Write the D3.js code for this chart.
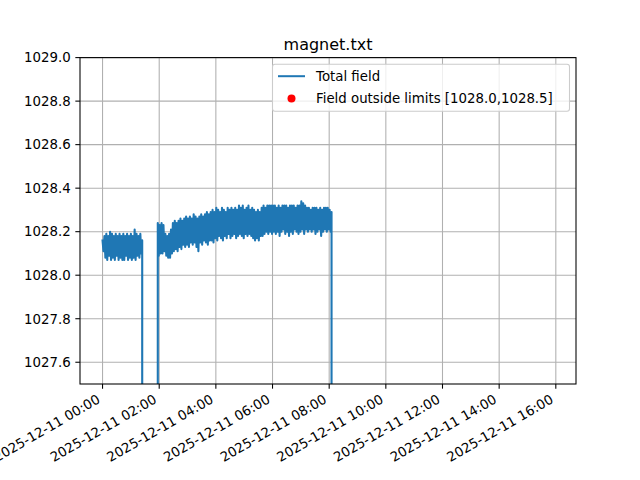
<!DOCTYPE html>
<html>
<head>
<meta charset="utf-8">
<script src="https://cdn.jsdelivr.net/npm/d3@7/dist/d3.min.js"></script>
<style>
  html, body { margin: 0; padding: 0; background: #fff; }
  svg { display: block; font-family: "DejaVu Sans", sans-serif; }
</style>
</head>
<body>
<svg id="chart" width="640" height="480"></svg>
<script>
// ---------------- data ----------------
const chartTitle = "magnet.txt";
const seriesLabels = ["Total field", "Field outside limits [1028.0,1028.5]"];
const limits = [1028.0, 1028.5];
const dayStart = "2025-12-11T00:00:00";
const sampleStepMin = 2;

// first block of readings, starting 00:00, every 2 minutes
const block1StartMin = 0;
const block1Values = [
  1028.16, 1028.11, 1028.18, 1028.08, 1028.19, 1028.07, 1028.18, 1028.09, 1028.20, 1028.07,
  1028.19, 1028.08, 1028.18, 1028.07, 1028.19, 1028.09, 1028.18, 1028.07, 1028.19, 1028.08,
  1028.18, 1028.07, 1028.19, 1028.07, 1028.18, 1028.09, 1028.19, 1028.07, 1028.18, 1028.08,
  1028.19, 1028.07, 1028.18, 1028.08, 1028.21, 1028.07, 1028.19, 1028.09, 1028.18, 1028.08,
  1028.19, 1028.10, 1028.16
];
// dropout readings (sensor reported 0)
const dropout1Min = [86, 90, 96, 102, 108, 114];
const dropout1Values = [0, 0, 0, 0, 0, 0];
// second block of readings, starting 01:57, every 2 minutes
const block2StartMin = 117;
const block2Values = [
  1028.24, 1028.09, 1028.23, 1028.10, 1028.24, 1028.10, 1028.23, 1028.11, 1028.19, 1028.09,
  1028.18, 1028.08, 1028.19, 1028.08, 1028.21, 1028.10, 1028.24, 1028.11, 1028.25, 1028.12,
  1028.24, 1028.11, 1028.25, 1028.13, 1028.26, 1028.12, 1028.25, 1028.14, 1028.26, 1028.13,
  1028.27, 1028.14, 1028.26, 1028.13, 1028.27, 1028.15, 1028.26, 1028.14, 1028.28, 1028.15,
  1028.27, 1028.13, 1028.26, 1028.11, 1028.27, 1028.15, 1028.28, 1028.14, 1028.27, 1028.16,
  1028.28, 1028.15, 1028.29, 1028.14, 1028.28, 1028.16, 1028.29, 1028.16, 1028.30, 1028.15,
  1028.29, 1028.17, 1028.31, 1028.16, 1028.30, 1028.18, 1028.29, 1028.17, 1028.31, 1028.16,
  1028.30, 1028.18, 1028.29, 1028.17, 1028.31, 1028.19, 1028.30, 1028.17, 1028.31, 1028.18,
  1028.30, 1028.19, 1028.31, 1028.17, 1028.30, 1028.18, 1028.32, 1028.19, 1028.31, 1028.18,
  1028.32, 1028.17, 1028.30, 1028.19, 1028.31, 1028.18, 1028.32, 1028.19, 1028.30, 1028.18,
  1028.31, 1028.17, 1028.30, 1028.16, 1028.29, 1028.17, 1028.30, 1028.16, 1028.29, 1028.18,
  1028.31, 1028.18, 1028.32, 1028.19, 1028.31, 1028.20, 1028.32, 1028.19, 1028.32, 1028.20,
  1028.32, 1028.19, 1028.32, 1028.20, 1028.32, 1028.19, 1028.31, 1028.20, 1028.32, 1028.18,
  1028.31, 1028.20, 1028.32, 1028.21, 1028.32, 1028.19, 1028.32, 1028.20, 1028.31, 1028.18,
  1028.32, 1028.20, 1028.32, 1028.19, 1028.32, 1028.21, 1028.31, 1028.20, 1028.32, 1028.19,
  1028.32, 1028.20, 1028.34, 1028.21, 1028.33, 1028.19, 1028.32, 1028.21, 1028.31, 1028.20,
  1028.31, 1028.21, 1028.30, 1028.20, 1028.31, 1028.21, 1028.31, 1028.19, 1028.31, 1028.20,
  1028.30, 1028.21, 1028.31, 1028.18, 1028.30, 1028.20, 1028.31, 1028.21, 1028.31, 1028.20,
  1028.31, 1028.21, 1028.30, 1028.20, 1028.29
];
// second dropout until the end of the file
const dropout2Min = [487, 540, 600, 660, 720, 780, 840, 900, 955];
const dropout2Values = [0, 0, 0, 0, 0, 0, 0, 0, 0];

const yDomain = [1027.5, 1029.0];
const yTicks = [1027.6, 1027.8, 1028.0, 1028.2, 1028.4, 1028.6, 1028.8, 1029.0];

// ---------------- build records ----------------
const t0 = new Date(dayStart);
const atMin = m => new Date(t0.getTime() + m * 60000);
const records = [];
block1Values.forEach((v, i) => records.push({ t: atMin(block1StartMin + i * sampleStepMin), v }));
dropout1Min.forEach((m, i) => records.push({ t: atMin(m), v: dropout1Values[i] }));
block2Values.forEach((v, i) => records.push({ t: atMin(block2StartMin + i * sampleStepMin), v }));
dropout2Min.forEach((m, i) => records.push({ t: atMin(m), v: dropout2Values[i] }));
records.sort((a, b) => a.t - b.t);
const outside = records.filter(d => d.v < limits[0] || d.v > limits[1]);

// ---------------- layout ----------------
const L = 80, R = 576, T = 57.6, B = 384;
const svg = d3.select("#chart");
const FS = 13.333;

const ext = d3.extent(records, d => d.t);
const span = ext[1] - ext[0];
const x = d3.scaleTime()
  .domain([new Date(ext[0].getTime() - 0.05 * span), new Date(ext[1].getTime() + 0.05 * span)])
  .range([L, R]);
const y = d3.scaleLinear().domain(yDomain).range([B, T]);

const xTicks = x.ticks(d3.timeHour.every(2));
const fmt = d3.timeFormat("%Y-%m-%d %H:%M");

// grid
const grid = svg.append("g");
grid.selectAll("line.gx").data(xTicks).join("line")
  .attr("x1", d => x(d)).attr("x2", d => x(d)).attr("y1", T).attr("y2", B)
  .attr("stroke", "#b0b0b0").attr("stroke-width", 1.07);
grid.selectAll("line.gy").data(yTicks).join("line")
  .attr("x1", L).attr("x2", R).attr("y1", d => y(d)).attr("y2", d => y(d))
  .attr("stroke", "#b0b0b0").attr("stroke-width", 1.07);

// clip
svg.append("defs").append("clipPath").attr("id", "clip")
  .append("rect").attr("x", L).attr("y", T).attr("width", R - L).attr("height", B - T);

const plot = svg.append("g").attr("clip-path", "url(#clip)");
const line = d3.line().x(d => x(d.t)).y(d => y(d.v));
plot.append("path").datum(records)
  .attr("d", line).attr("fill", "none")
  .attr("stroke", "#1f77b4").attr("stroke-width", 2.1)
  .attr("stroke-linejoin", "round").attr("stroke-linecap", "square");
plot.selectAll("circle").data(outside).join("circle")
  .attr("cx", d => x(d.t)).attr("cy", d => y(d.v)).attr("r", 4).attr("fill", "red");

// spines
svg.append("rect").attr("x", L).attr("y", T).attr("width", R - L).attr("height", B - T)
  .attr("fill", "none").attr("stroke", "#000").attr("stroke-width", 1.07);

// x ticks
const xg = svg.append("g");
xg.selectAll("line").data(xTicks).join("line")
  .attr("x1", d => x(d)).attr("x2", d => x(d)).attr("y1", B).attr("y2", B + 4.67)
  .attr("stroke", "#000").attr("stroke-width", 1.07);
xg.selectAll("text").data(xTicks).join("text")
  .attr("transform", d => `translate(${x(d) - 1.5},${B + 9.33 + 8.8}) rotate(-30)`)
  .attr("text-anchor", "end").attr("font-size", FS).attr("fill", "#000")
  .text(d => fmt(d));

// y ticks
const yg = svg.append("g");
yg.selectAll("line").data(yTicks).join("line")
  .attr("x1", L - 4.67).attr("x2", L).attr("y1", d => y(d)).attr("y2", d => y(d))
  .attr("stroke", "#000").attr("stroke-width", 1.07);
yg.selectAll("text").data(yTicks).join("text")
  .attr("x", L - 9.33).attr("y", d => y(d) + 4.8)
  .attr("text-anchor", "end").attr("font-size", FS).attr("fill", "#000")
  .text(d => d.toFixed(1));

// title
svg.append("text").attr("x", (L + R) / 2).attr("y", 49.6)
  .attr("text-anchor", "middle").attr("font-size", 16).attr("fill", "#000")
  .text(chartTitle);

// legend
const lg = svg.append("g");
const lgX = 272.5, lgY = 64.3, lgW = 297, lgH = 47;
lg.append("rect").attr("x", lgX).attr("y", lgY).attr("width", lgW).attr("height", lgH)
  .attr("rx", 2.5).attr("fill", "#fff").attr("fill-opacity", 0.8)
  .attr("stroke", "#cccccc").attr("stroke-width", 1.07);
const row1 = 76.2, row2 = 97.8;
lg.append("line").attr("x1", lgX + 5.5).attr("x2", lgX + 32.5).attr("y1", row1).attr("y2", row1)
  .attr("stroke", "#1f77b4").attr("stroke-width", 2);
lg.append("circle").attr("cx", lgX + 19).attr("cy", row2 + 0.8).attr("r", 4).attr("fill", "red");
lg.selectAll("text").data(seriesLabels).join("text")
  .attr("x", lgX + 43.5).attr("y", (d, i) => (i === 0 ? row1 : row2) + 4.8)
  .attr("font-size", FS).attr("fill", "#000").text(d => d);
</script>
</body>
</html>
